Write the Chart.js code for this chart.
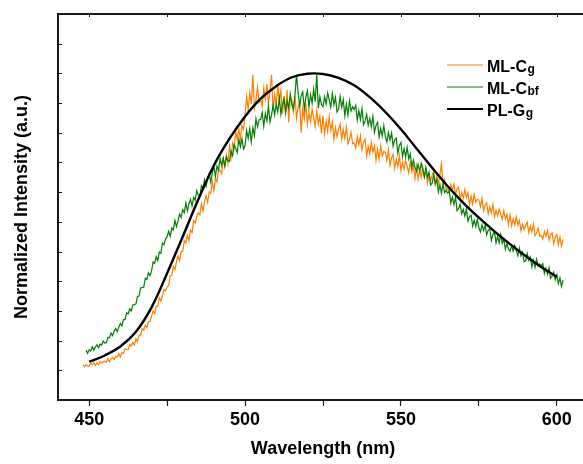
<!DOCTYPE html>
<html lang="en">
<head>
    <meta charset="UTF-8">
    <title>ML / PL spectra</title>
    <style>
        body {
            margin: 0;
            padding: 0;
            background: #fff;
        }

        #wrap {
            width: 583px;
            height: 464px;
            overflow: hidden; /* right frame edge is cut off in the original */
        }
    </style>
</head>
<body>
<div id="wrap">
    <canvas id="spectra" width="590" height="464"></canvas>
</div>

<script src="https://cdn.jsdelivr.net/npm/chart.js@4"></script>
<script>
    // ---- data ----
    var seriesNames = ['ML-C', 'ML-C', 'PL-G'];
    var seriesSubs = ['g', 'bf', 'g'];
    var seriesColors = ['#ff7f00', '#007f00', '#000000'];

    var xTicks = [450, 475, 500, 525, 550, 575, 600];
    var xTickLabels = ['450', '', '500', '', '550', '', '600'];

    // ML-Cg, 0.5 nm step starting at 448 nm
    var mlCgStart = 448;
    var mlCg = [
        1.19, 1.12, 1.19, 1.15,
        1.14, 1.24, 1.19, 1.25, 1.16, 1.25, 1.19, 1.30, 1.25, 1.29,
        1.31, 1.27, 1.39, 1.29, 1.38, 1.44, 1.36, 1.47, 1.44, 1.56,
        1.45, 1.59, 1.57, 1.72, 1.71, 1.69, 1.87, 1.82, 1.94, 1.85,
        2.06, 1.97, 2.18, 2.17, 2.40, 2.35, 2.52, 2.44, 2.64, 2.64,
        2.82, 3.00, 2.91, 3.16, 3.16, 3.44, 3.33, 3.51, 3.72, 3.68,
        3.81, 3.86, 4.19, 4.20, 4.49, 4.39, 4.66, 4.85, 4.70, 5.01,
        5.00, 5.36, 5.29, 5.55, 5.37, 5.72, 5.64, 6.04, 5.96, 6.18,
        6.30, 6.23, 6.61, 6.36, 6.67, 6.88, 6.66, 7.01, 6.96, 7.34,
        7.05, 7.45, 7.35, 7.78, 7.71, 7.62, 8.12, 7.92, 8.25, 7.96,
        8.55, 8.15, 8.65, 8.49, 9.05, 8.77, 9.14, 8.77, 9.24, 9.11,
        9.59, 10.21, 9.79, 10.35, 9.96, 10.95, 9.82, 10.11, 10.54, 10.02,
        10.12, 9.89, 10.51, 10.15, 10.64, 9.96, 10.40, 10.95, 9.76, 10.30,
        9.93, 10.58, 10.05, 10.43, 9.63, 10.23, 9.71, 10.44, 9.35, 10.16,
        10.10, 9.71, 10.24, 9.49, 9.86, 10.03, 9.00, 9.81, 9.46, 9.99,
        9.29, 9.68, 9.37, 9.79, 9.52, 9.21, 9.74, 9.29, 9.57, 8.98,
        9.58, 8.96, 9.39, 9.05, 9.55, 9.07, 9.36, 8.78, 9.17, 8.87,
        9.14, 9.29, 8.78, 9.11, 8.81, 9.20, 8.63, 8.78, 9.02, 8.63,
        8.66, 8.48, 8.87, 8.60, 8.90, 8.42, 8.69, 8.78, 8.21, 8.54,
        8.28, 8.68, 8.34, 8.57, 8.07, 8.44, 8.10, 8.56, 8.22, 8.37,
        8.34, 8.06, 8.43, 7.90, 8.16, 8.27, 7.80, 8.11, 7.86, 8.23,
        7.73, 8.00, 7.77, 8.07, 7.87, 7.64, 8.01, 7.69, 7.88, 7.46,
        7.88, 7.44, 7.74, 7.50, 7.86, 7.52, 7.72, 7.30, 7.59, 7.37,
        7.58, 7.69, 7.26, 7.53, 7.27, 7.59, 7.95, 7.23, 7.42, 7.09,
        7.11, 6.98, 7.26, 7.06, 7.27, 6.92, 7.11, 7.17, 6.75, 6.99,
        6.79, 7.09, 6.82, 6.98, 6.58, 6.86, 6.59, 6.93, 6.66, 6.76,
        6.73, 6.51, 6.79, 6.37, 6.56, 6.64, 6.27, 6.50, 6.30, 6.58,
        6.18, 6.39, 6.20, 6.43, 6.26, 6.08, 6.37, 6.10, 6.25, 5.90,
        6.23, 5.87, 6.10, 5.90, 6.17, 5.89, 6.05, 5.70, 5.92, 5.73,
        5.89, 5.99, 5.64, 5.86, 5.66, 5.92, 5.53, 5.63, 5.79, 5.52,
        5.54, 5.42, 5.68, 5.51, 5.71, 5.39, 5.57, 5.63, 5.26, 5.48,
        5.57, 5.23, 5.49, 5.18, 5.41
    ];

    // ML-Cbf, 0.5 nm step starting at 449 nm
    var mlCbfStart = 449;
    var mlCbf = [
        1.68, 1.57,
        1.69, 1.65, 1.79, 1.68, 1.79, 1.86, 1.76, 1.88, 1.85, 1.99,
        1.92, 1.93, 2.11, 2.10, 2.25, 2.17, 2.32, 2.41, 2.30, 2.46,
        2.58, 2.50, 2.71, 2.71, 2.94, 2.90, 3.07, 3.00, 3.20, 3.21,
        3.24, 3.49, 3.50, 3.77, 3.79, 3.80, 4.10, 4.06, 4.28, 4.19,
        4.34, 4.65, 4.60, 4.83, 4.69, 4.99, 4.94, 5.28, 5.23, 5.42,
        5.50, 5.68, 5.51, 5.79, 5.73, 6.05, 5.84, 6.03, 6.26, 6.15,
        6.41, 6.31, 6.63, 6.37, 6.61, 6.76, 6.54, 6.82, 6.73, 7.05,
        6.89, 6.86, 7.22, 7.13, 7.42, 7.20, 7.47, 7.62, 7.33, 7.65,
        7.86, 7.54, 7.88, 7.74, 8.13, 7.90, 8.15, 7.86, 8.18, 8.06,
        8.03, 8.38, 8.23, 8.60, 8.48, 8.33, 8.78, 8.53, 8.80, 8.45,
        8.57, 9.08, 8.81, 9.14, 8.69, 9.17, 8.90, 9.47, 9.20, 9.44,
        9.45, 9.68, 9.22, 9.65, 9.40, 9.90, 9.36, 9.60, 9.93, 9.60,
        9.96, 9.70, 10.17, 9.62, 9.96, 10.15, 9.66, 10.07, 9.84, 10.31,
        9.95, 9.80, 10.26, 10.95, 10.38, 9.91, 10.24, 10.38, 9.81, 10.20,
        10.41, 9.86, 10.28, 9.99, 10.47, 10.05, 10.95, 9.83, 10.21, 9.96,
        9.88, 10.22, 9.97, 10.34, 10.11, 9.86, 10.32, 9.94, 10.19, 9.70,
        9.80, 10.22, 9.86, 10.11, 9.57, 9.96, 9.60, 10.08, 9.73, 9.88,
        9.78, 9.92, 9.43, 9.74, 9.45, 9.81, 9.27, 9.40, 9.62, 9.25,
        9.49, 9.20, 9.55, 9.01, 9.25, 9.35, 8.86, 9.15, 8.89, 9.24,
        8.87, 8.69, 9.01, 8.75, 8.99, 8.55, 8.77, 8.82, 8.31, 8.57,
        8.67, 8.19, 8.46, 8.18, 8.50, 8.12, 8.29, 7.84, 8.08, 7.83,
        7.70, 7.94, 7.70, 7.97, 7.75, 7.51, 7.84, 7.51, 7.67, 7.24,
        7.30, 7.58, 7.28, 7.43, 7.00, 7.25, 6.96, 7.28, 6.98, 7.06,
        6.97, 7.04, 6.63, 6.84, 6.58, 6.83, 6.38, 6.45, 6.59, 6.27,
        6.42, 6.19, 6.43, 6.02, 6.17, 6.23, 5.86, 6.05, 5.84, 6.08,
        5.79, 5.66, 5.90, 5.71, 5.89, 5.56, 5.72, 5.77, 5.37, 5.58,
        5.66, 5.29, 5.51, 5.30, 5.57, 5.28, 5.42, 5.07, 5.28, 5.08,
        5.01, 5.19, 5.01, 5.20, 5.04, 4.86, 5.11, 4.86, 4.98, 4.66,
        4.69, 4.93, 4.70, 4.82, 4.48, 4.70, 4.47, 4.74, 4.51, 4.58,
        4.51, 4.59, 4.26, 4.44, 4.24, 4.46, 4.10, 4.17, 4.30, 4.05,
        4.22, 3.92, 4.12, 3.83, 4.04
    ];
    var specStep = 0.5;

    // PL-Gg, smooth curve every 5 nm
    var plWl = [450, 455, 460, 465, 470, 475, 480, 485, 490, 495, 500, 505, 510, 515, 520,
        525, 530, 535, 540, 545, 550, 555, 560, 565, 570, 575, 580, 585, 590, 595, 600];
    var plGg = [1.29, 1.50, 1.80, 2.30, 3.12, 4.27, 5.50, 6.75, 7.90, 8.80, 9.55, 10.15, 10.57, 10.87, 10.99,
        10.98, 10.85, 10.60, 10.20, 9.70, 9.12, 8.47, 7.82, 7.20, 6.64, 6.14, 5.68, 5.25, 4.85, 4.48, 4.15];

    var yTicks = [1, 2, 3, 4, 5, 6, 7, 8, 9, 10, 11, 12];

    function toPoints(start, ys) {
        return ys.map(function (y, i) {
            return {x: start + i * specStep, y: y};
        });
    }

    var boldFont = "'Liberation Sans', Arial, sans-serif";
    var frameColor = '#1a1a1a';

    // inward ticks on left and top edges + top frame line
    var framePlugin = {
        id: 'frame',
        afterDraw: function (chart) {
            var ctx = chart.ctx;
            var area = chart.chartArea;
            var xs = chart.scales.x, ys = chart.scales.y;
            ctx.save();
            ctx.strokeStyle = frameColor;
            ctx.lineWidth = 2;
            ctx.beginPath();
            ctx.moveTo(area.left - 1, area.top);
            ctx.lineTo(area.right, area.top);
            ctx.stroke();
            ctx.lineWidth = 1;
            ctx.beginPath();
            yTicks.forEach(function (v) {
                var py = Math.round(ys.getPixelForValue(v)) + 0.5;
                ctx.moveTo(area.left, py);
                ctx.lineTo(area.left + 4, py);
            });
            xTicks.forEach(function (v) {
                var px = Math.round(xs.getPixelForValue(v)) + 0.5;
                ctx.moveTo(px, area.top);
                ctx.lineTo(px, area.top + 3);
            });
            ctx.stroke();
            ctx.restore();
        }
    };

    // legend with subscripts
    var legendPlugin = {
        id: 'subLegend',
        afterDraw: function (chart) {
            var ctx = chart.ctx;
            ctx.save();
            for (var i = 0; i < seriesNames.length; i++) {
                var y = 65 + i * 22;
                ctx.strokeStyle = seriesColors[i];
                ctx.lineWidth = i === 2 ? 2 : 1;
                ctx.beginPath();
                ctx.moveTo(447, y);
                ctx.lineTo(483, y);
                ctx.stroke();
                ctx.fillStyle = '#000';
                ctx.textBaseline = 'alphabetic';
                ctx.font = 'bold 16px ' + boldFont;
                ctx.fillText(seriesNames[i], 487, y + 6.5);
                var w = ctx.measureText(seriesNames[i]).width;
                ctx.font = 'bold 12px ' + boldFont;
                ctx.fillText(seriesSubs[i], 487 + w + 0.5, y + 7.5);
            }
            ctx.restore();
        }
    };

    var ctx = document.getElementById('spectra').getContext('2d');
    var chart = new Chart(ctx, {
        type: 'line',
        data: {
            datasets: [{
                label: 'ML-Cg',
                data: toPoints(mlCgStart, mlCg),
                borderColor: seriesColors[0],
                borderWidth: 1.2,
                order: 2
            }, {
                label: 'ML-Cbf',
                data: toPoints(mlCbfStart, mlCbf),
                borderColor: seriesColors[1],
                borderWidth: 1.2,
                order: 1
            }, {
                label: 'PL-Gg',
                data: plWl.map(function (x, i) { return {x: x, y: plGg[i]}; }),
                borderColor: seriesColors[2],
                borderWidth: 2.4,
                tension: 0.4,
                order: 0
            }]
        },
        options: {
            responsive: false,
            animation: false,
            events: [],
            elements: {
                point: {radius: 0},
                line: {tension: 0, fill: false}
            },
            layout: {padding: {left: 0, top: 14, right: 2, bottom: 0}},
            plugins: {
                legend: {display: false},
                tooltip: {enabled: false}
            },
            scales: {
                x: {
                    type: 'linear',
                    min: 440,
                    max: 610,
                    afterBuildTicks: function (scale) {
                        scale.ticks = xTicks.map(function (v) { return {value: v}; });
                    },
                    afterFit: function (scale) {
                        scale.height = 64;
                    },
                    border: {color: frameColor, width: 2},
                    grid: {
                        drawOnChartArea: false,
                        drawTicks: true,
                        tickLength: 6,
                        tickWidth: 1.2,
                        tickColor: frameColor
                    },
                    ticks: {
                        autoSkip: false,
                        maxRotation: 0,
                        padding: 3,
                        color: '#000',
                        font: {family: boldFont, size: 18, weight: 'bold'},
                        callback: function (v) {
                            var k = xTicks.indexOf(v);
                            return k >= 0 ? xTickLabels[k] : '';
                        }
                    },
                    title: {
                        display: true,
                        text: 'Wavelength (nm)',
                        color: '#000',
                        font: {family: boldFont, size: 18, weight: 'bold'},
                        padding: {top: 0, bottom: 4}
                    }
                },
                y: {
                    type: 'linear',
                    min: 0,
                    max: 13,
                    afterFit: function (scale) {
                        scale.width = 58;
                    },
                    border: {color: frameColor, width: 2},
                    grid: {drawOnChartArea: false, drawTicks: false},
                    ticks: {display: false},
                    title: {
                        display: true,
                        text: 'Normalized Intensity (a.u.)',
                        color: '#000',
                        font: {family: boldFont, size: 18, weight: 'bold'},
                        padding: {top: 11, bottom: 0}
                    }
                }
            }
        },
        plugins: [framePlugin, legendPlugin]
    });
</script>
</body>
</html>
